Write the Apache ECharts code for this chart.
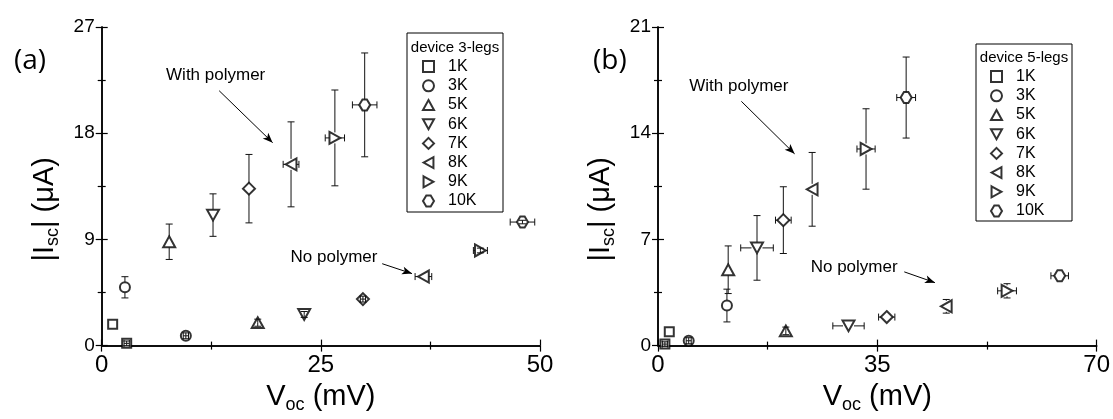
<!DOCTYPE html>
<html>
<head>
<meta charset="utf-8">
<title>Isc vs Voc</title>
<style>
  html, body { margin: 0; padding: 0; background: #fff; }
  #chart { width: 1113px; height: 419px; }
</style>
<script src="https://cdn.jsdelivr.net/npm/echarts@6/dist/echarts.min.js"></script>
</head>
<body>
<div id="chart"></div>
<script>
var kNames = ['1K', '3K', '5K', '6K', '7K', '8K', '9K', '10K'];

// rows: [Voc (mV), |Isc| (uA), Voc error, Isc error], one row per kNames entry
var legs3With = [
  [1.25, 1.81, 0, 0], [2.65, 4.94, 0, 0.9], [7.7, 8.8, 0, 1.5], [12.7, 11.06, 0, 1.8],
  [16.8, 13.3, 0, 2.9], [21.6, 15.36, 0.9, 3.6], [26.6, 17.6, 1.1, 4.06], [30.0, 20.4, 1.4, 4.4]
];
var legs3No = [
  [2.85, 0.19, 0.3, 0.2], [9.6, 0.83, 0.3, 0.25], [17.8, 1.94, 0, 0.3], [23.1, 2.64, 0, 0.25],
  [29.8, 3.94, 0.3, 0.25], [36.7, 5.85, 0.95, 0], [43.2, 8.06, 0.8, 0.2], [48.0, 10.47, 1.4, 0.15]
];
var legs5With = [
  [1.8, 0.91, 0, 0], [11.0, 2.64, 0, 1.08], [11.2, 5.0, 0, 1.57], [15.8, 6.44, 2.6, 2.13],
  [20.0, 8.27, 1.25, 2.2], [24.6, 10.3, 0, 2.43], [33.2, 12.96, 1.45, 2.65], [39.6, 16.35, 1.5, 2.67]
];
var legs5No = [
  [1.1, 0.1, 0.4, 0.15], [4.9, 0.32, 0.4, 0.2], [20.4, 0.97, 0, 0.25], [30.4, 1.3, 2.5, 0],
  [36.5, 1.88, 1.3, 0], [46.0, 2.59, 0, 0.45], [55.7, 3.61, 1.5, 0.47], [64.1, 4.6, 1.4, 0]
];

var xMaxA = 50, xStepA = 25, yMaxA = 27, yStepA = 9;
var xMaxB = 70, xStepB = 35, yMaxB = 21, yStepB = 7;

// annotation text [x, y] and arrows [from, to] in data units
var notesA = [
  { text: 'With polymer', at: [13.0, 22.9], arrow: [[13.4, 21.6], [19.5, 17.2]] },
  { text: 'No polymer', at: [26.5, 7.5], arrow: [[32.0, 6.94], [35.4, 6.1]] }
];
var notesB = [
  { text: 'With polymer', at: [12.9, 17.06], arrow: [[13.3, 16.1], [21.8, 12.64]] },
  { text: 'No polymer', at: [31.3, 5.18], arrow: [[39.3, 4.86], [44.2, 4.15]] }
];

var font = 'Liberation Sans';
var markers = [
  { symbol: 'rect', size: 9 },
  { symbol: 'circle', size: 10 },
  { symbol: 'path://M5,0L10,9L0,9Z', size: 12 },
  { symbol: 'path://M0,0L10,0L5,9Z', size: 12 },
  { symbol: 'diamond', size: 12 },
  { symbol: 'path://M0,5L9,0L9,10Z', size: 12 },
  { symbol: 'path://M0,0L9,5L0,10Z', size: 12 },
  { symbol: 'path://M3,0L7,0L10,5L7,10L3,10L0,5Z', size: 11 }
];

function errorBars(params, api) {
  var x = api.value(0), y = api.value(1);
  var ex = api.value(2), ey = api.value(3);
  var c = api.coord([x, y]);
  var gap = 5.5, cap = 3.5;
  var shapes = [];
  function seg(x1, y1, x2, y2) {
    shapes.push({
      type: 'line',
      shape: { x1: x1, y1: y1, x2: x2, y2: y2 },
      style: { stroke: '#111', lineWidth: 1 }
    });
  }
  if (ey > 0) {
    var top = api.coord([x, y + ey])[1];
    var bot = api.coord([x, y - ey])[1];
    var g = c[1] - top > gap + 1 ? gap : 0;
    seg(c[0], top, c[0], c[1] - g);
    seg(c[0], c[1] + g, c[0], bot);
    seg(c[0] - cap, top, c[0] + cap, top);
    seg(c[0] - cap, bot, c[0] + cap, bot);
  }
  if (ex > 0) {
    var lft = api.coord([x - ex, y])[0];
    var rgt = api.coord([x + ex, y])[0];
    var h = c[0] - lft > gap + 1 ? gap : 0;
    seg(lft, c[1], c[0] - h, c[1]);
    seg(c[0] + h, c[1], rgt, c[1]);
    seg(lft, c[1] - cap, lft, c[1] + cap);
    seg(rgt, c[1] - cap, rgt, c[1] + cap);
  }
  return { type: 'group', children: shapes };
}

var tick = { inside: true, length: 6, lineStyle: { color: '#000', width: 1.2 } };
var minor = { show: true, splitNumber: 2, length: 4, lineStyle: { color: '#000', width: 1.2 } };
var axisLine = { show: true, lineStyle: { color: '#000', width: 1.5 } };
var nameRich = {
  m: { fontFamily: font, fontSize: 29, color: '#000' },
  sub: { fontFamily: font, fontSize: 18, color: '#000', padding: [16, 0, 0, 0] }
};

function xAxes(grid, max, step) {
  return [{
    type: 'value', gridIndex: grid, min: 0, max: max, interval: step, position: 'bottom',
    name: '{m|V}{sub|oc}{m| (mV)}', nameLocation: 'middle', nameGap: 28,
    nameTextStyle: { rich: nameRich },
    axisLine: axisLine, axisTick: tick, minorTick: minor,
    axisLabel: { fontFamily: font, fontSize: 24, color: '#000', margin: 8 },
    splitLine: { show: false }
  }, {
    type: 'value', gridIndex: grid, min: 0, max: max, interval: step, position: 'top',
    axisLine: axisLine, axisTick: tick, minorTick: minor,
    axisLabel: { show: false }, splitLine: { show: false }
  }];
}

function yAxes(grid, max, step) {
  return [{
    type: 'value', gridIndex: grid, min: 0, max: max, interval: step, position: 'left',
    name: '{m||I}{sub|sc}{m|| (μA)}', nameLocation: 'middle', nameGap: 40,
    nameTextStyle: { padding: [0, 46, 0, 0], rich: nameRich },
    axisLine: axisLine, axisTick: tick, minorTick: minor,
    axisLabel: { fontFamily: font, fontSize: 19, color: '#000', margin: 7 },
    splitLine: { show: false }
  }, {
    type: 'value', gridIndex: grid, min: 0, max: max, interval: step, position: 'right',
    axisLine: axisLine, axisTick: tick, minorTick: minor,
    axisLabel: { show: false }, splitLine: { show: false }
  }];
}

function panelSeries(grid, withRows, noRows, notes) {
  var list = [];
  kNames.forEach(function (name, i) {
    list.push({
      name: name,
      type: 'scatter',
      xAxisIndex: grid * 2,
      yAxisIndex: grid * 2,
      symbol: markers[i].symbol,
      symbolSize: markers[i].size,
      symbolKeepAspect: true,
      itemStyle: { color: '#fff', borderColor: '#000', borderWidth: 2 },
      z: 2,
      data: [withRows[i].slice(0, 2), noRows[i].slice(0, 2)]
    });
  });
  list.push({
    name: 'bars' + grid,
    type: 'custom',
    xAxisIndex: grid * 2,
    yAxisIndex: grid * 2,
    renderItem: errorBars,
    encode: { x: 0, y: 1 },
    z: 3,
    silent: true,
    data: withRows.concat(noRows),
    markLine: {
      silent: true,
      symbol: ['none', 'arrow'],
      symbolSize: [6, 10],
      label: { show: false },
      lineStyle: { color: '#000', width: 1, type: 'solid' },
      data: notes.map(function (n) {
        return [{ coord: n.arrow[0] }, { coord: n.arrow[1] }];
      })
    }
  });
  return list;
}

var legendCommon = {
  data: kNames,
  orient: 'vertical',
  itemWidth: 11,
  itemHeight: 11,
  itemGap: 0,
  selectedMode: false,
  padding: 0,
  textStyle: { fontFamily: font, fontSize: 16, color: '#000', lineHeight: 19.2, padding: [0, 0, 0, 9] }
};

var titleStyle = { fontFamily: 'Open Sans', fontSize: 28, fontWeight: 'normal', color: '#000' };
var boxStyle = { fill: 'none', stroke: '#000', lineWidth: 1 };
var headStyle = { fontFamily: font, fontSize: 15, fill: '#000', align: 'center', verticalAlign: 'middle' };

var option = {
  animation: false,
  backgroundColor: '#fff',
  title: [
    { text: '(a)', left: 9, top: 42, textStyle: titleStyle },
    { text: '(b)', left: 588, top: 42, textStyle: titleStyle }
  ],
  grid: [
    { left: 101.7, top: 27, width: 438.3, height: 323 },
    { left: 658, top: 27, width: 440, height: 323 }
  ],
  legend: [
    Object.assign({}, legendCommon, { left: 422, top: 57 }),
    Object.assign({}, legendCommon, { left: 990, top: 67 })
  ],
  xAxis: xAxes(0, xMaxA, xStepA).concat(xAxes(1, xMaxB, xStepB)),
  yAxis: yAxes(0, yMaxA, yStepA).concat(yAxes(1, yMaxB, yStepB)),
  series: panelSeries(0, legs3With, legs3No, notesA).concat(panelSeries(1, legs5With, legs5No, notesB))
};

var myChart = echarts.init(document.getElementById('chart'));
myChart.setOption(option);

// legend boxes, headings and arrow captions
var extra = [
  { type: 'rect', x: 407, y: 33, shape: { width: 96, height: 179 }, style: boxStyle },
  { type: 'text', x: 455, y: 48, style: Object.assign({ text: 'device 3-legs' }, headStyle) },
  { type: 'rect', x: 976, y: 44, shape: { width: 96, height: 177 }, style: boxStyle },
  { type: 'text', x: 1024, y: 58, style: Object.assign({ text: 'device 5-legs' }, headStyle) }
];
[notesA, notesB].forEach(function (notes, grid) {
  notes.forEach(function (n) {
    var p = myChart.convertToPixel({ gridIndex: grid }, n.at);
    extra.push({
      type: 'text', x: p[0], y: p[1],
      style: { text: n.text, fontFamily: font, fontSize: 17, fill: '#000', align: 'center', verticalAlign: 'middle' }
    });
  });
});
myChart.setOption({ graphic: extra });
</script>
</body>
</html>
